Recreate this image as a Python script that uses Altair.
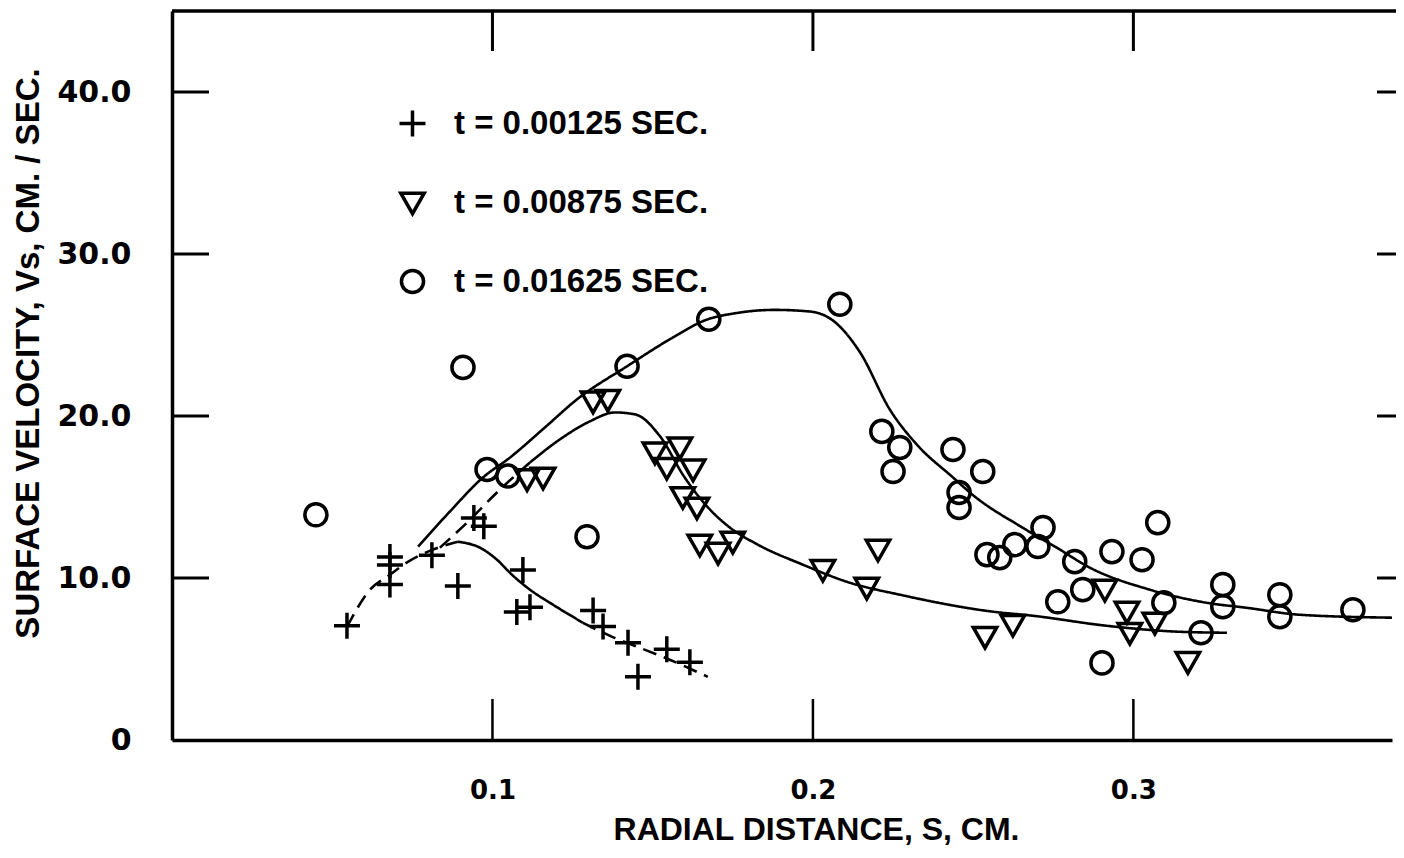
import altair as alt
import pandas as pd

# ---------------- data ----------------
LAB_PLUS = "t = 0.00125 SEC."
LAB_TRI = "t = 0.00875 SEC."
LAB_CIR = "t = 0.01625 SEC."
series_order = [LAB_PLUS, LAB_TRI, LAB_CIR]

plus_s = [0.0546, 0.0680, 0.0680, 0.0680, 0.0811, 0.0892, 0.0942, 0.0973, 0.1095,
          0.1076, 0.1117, 0.1314, 0.1345, 0.1423, 0.1454, 0.1544, 0.1616]
plus_v = [7.05, 11.3, 10.8, 9.6, 11.4, 9.5, 13.7, 13.2, 10.5,
          7.9, 8.2, 8.0, 7.0, 6.0, 3.9, 5.6, 4.8]

tri_s = [0.1314, 0.1360, 0.1108, 0.1158, 0.1507, 0.1585, 0.1544, 0.1626, 0.1594,
         0.1638, 0.1647, 0.1704, 0.1750, 0.2031, 0.2203, 0.2168, 0.2537, 0.2624,
         0.2911, 0.2980, 0.2989, 0.3067, 0.3170]
tri_v = [20.9, 21.0, 16.1, 16.2, 17.75, 18.06, 16.8, 16.7, 15.0,
         14.35, 12.06, 11.56, 12.24, 10.5, 11.75, 9.4, 6.37, 7.11,
         9.28, 7.92, 6.62, 7.24, 4.82]

circ_s = [0.0449, 0.0908, 0.0983, 0.1048, 0.1295, 0.1420, 0.1675, 0.2084, 0.2215,
          0.2271, 0.2250, 0.2437, 0.2530, 0.2456, 0.2456, 0.2718, 0.2543, 0.2583,
          0.2630, 0.2702, 0.2817, 0.2933, 0.3027, 0.3076, 0.2842, 0.2764, 0.3095,
          0.3211, 0.2902, 0.3279, 0.3279, 0.3457, 0.3457, 0.3685]
circ_v = [13.9, 23.0, 16.7, 16.3, 12.55, 23.07, 25.97, 26.9, 19.05,
          18.06, 16.57, 17.93, 16.57, 15.28, 14.35, 13.11, 11.44, 11.26,
          12.06, 11.94, 11.01, 11.63, 11.13, 13.42, 9.28, 8.53, 8.47,
          6.62, 4.76, 9.59, 8.23, 8.97, 7.61, 8.04]

# hand-drawn fitted curves
plus_fit_a_s = [0.0546, 0.0618, 0.0680, 0.0736, 0.0814, 0.0892]
plus_fit_a_v = [6.99, 9.28, 10.2, 11.0, 11.75, 12.24]
plus_fit_b_s = [0.0892, 0.0961, 0.1014, 0.1061, 0.1117, 0.1189, 0.1282]
plus_fit_b_v = [12.24, 11.87, 11.13, 10.20, 9.28, 8.35, 7.24]
plus_fit_c_s = [0.1282, 0.1367, 0.1460, 0.1532, 0.1672]
plus_fit_c_v = [7.24, 6.43, 5.69, 5.13, 3.90]

tri_fit_a_s = [0.0836, 0.0930, 0.1014, 0.1117]
tri_fit_a_v = [11.87, 13.6, 15.28, 17.13]
tri_fit_b_s = [0.1117, 0.1210, 0.1304, 0.1382, 0.1445, 0.1523, 0.1598, 0.1679, 0.1741,
               0.1828, 0.1969, 0.2115, 0.2271, 0.2562, 0.2686, 0.2917, 0.3145, 0.3292]
tri_fit_b_v = [17.13, 18.55, 19.67, 20.22, 20.1, 18.74, 16.26, 14.22, 13.11,
               12.06, 10.82, 9.71, 8.97, 7.92, 7.67, 7.05, 6.68, 6.62]

circ_fit_s = [0.0768, 0.0867, 0.0970, 0.1055, 0.1164, 0.1264, 0.1420, 0.1554, 0.1669,
              0.1760, 0.1880, 0.1990, 0.2062, 0.2147, 0.2240, 0.2324, 0.2434, 0.2505,
              0.2655, 0.2761, 0.2864, 0.3051, 0.3229, 0.3354, 0.3520, 0.3807]
circ_fit_v = [11.94, 14.1, 16.2, 17.44, 19.3, 21.03, 23.07, 24.74, 25.95,
              26.35, 26.55, 26.45, 25.9, 23.93, 20.4, 18.24, 16.26, 15.03,
              13.1, 11.87, 10.64, 9.28, 8.47, 8.16, 7.73, 7.55]

x_ticks = [0.1, 0.2, 0.3]
y_ticks = [10, 20, 30, 40]
y_label_values = [0, 10, 20, 30, 40]

X_TITLE = "RADIAL DISTANCE, S, CM."
Y_TITLE = "SURFACE  VELOCITY, Vs, CM. / SEC."

# ---------------- layout ----------------
W, H = 1220, 729
X_DOMAIN = [0, 0.3807]
Y_DOMAIN = [0, 45]

# ---------------- tables ----------------
pts_rows = []
for xs, ys, lab in [(plus_s, plus_v, LAB_PLUS), (tri_s, tri_v, LAB_TRI), (circ_s, circ_v, LAB_CIR)]:
    for a, b in zip(xs, ys):
        pts_rows.append({"s": a, "v": b, "series": lab})
pts = pd.DataFrame(pts_rows)

fit_rows = []
for name, xs, ys, style in [
    ("pa", plus_fit_a_s, plus_fit_a_v, "dashed"),
    ("pb", plus_fit_b_s, plus_fit_b_v, "solid"),
    ("pc", plus_fit_c_s, plus_fit_c_v, "dashed"),
    ("ta", tri_fit_a_s, tri_fit_a_v, "dashed"),
    ("tb", tri_fit_b_s, tri_fit_b_v, "solid"),
    ("cc", circ_fit_s, circ_fit_v, "solid"),
]:
    for a, b in zip(xs, ys):
        fit_rows.append({"s": a, "v": b, "part": name, "style": style})
fits = pd.DataFrame(fit_rows)

xt = pd.DataFrame({"s": x_ticks})
yt = pd.DataFrame({"v": y_ticks})
one = pd.DataFrame({"a": [0]})

xscale = alt.Scale(domain=X_DOMAIN, nice=False, zero=False)
yscale = alt.Scale(domain=Y_DOMAIN, nice=False)

shape_plus = "M-1,0L1,0M0,-1L0,1"
shape_tri = "M-0.9,-0.72L0.9,-0.72L0,0.86Z"
shape_circ = "M0.85,0A0.85,0.85 0 1,1 -0.85,0A0.85,0.85 0 1,1 0.85,0Z"

x_axis = alt.Axis(
    values=x_ticks, format=".1f", grid=False, ticks=False, tickSize=0,
    domain=True, domainColor="black", domainWidth=3.5,
    labelFont="DejaVu Sans", labelFontWeight="bold", labelFontSize=26,
    labelColor="black", labelPadding=50, labelBaseline="middle",
    title=X_TITLE, titleFont="Liberation Sans", titleFontWeight="bold",
    titleFontSize=32, titleColor="black", titleX=644, titleY=89,
    titleAlign="center", titleBaseline="middle",
)
y_axis = alt.Axis(
    values=y_label_values,
    labelExpr="datum.value == 0 ? '0' : format(datum.value, '.1f')",
    grid=False, ticks=False, tickSize=0,
    domain=True, domainColor="black", domainWidth=3.5,
    labelFont="DejaVu Sans", labelFontWeight="bold", labelFontSize=30,
    labelColor="black", labelPadding=41,
    title=Y_TITLE, titleFont="Liberation Sans", titleFontWeight="bold",
    titleFontSize=33, titleColor="black", titleX=-144, titleY=342,
    titleAngle=270, titleAlign="center", titleBaseline="middle",
)

points = alt.Chart(pts).mark_point(
    filled=False, stroke="black", strokeWidth=3.5, size=676, opacity=1
).encode(
    x=alt.X("s:Q", scale=xscale, axis=x_axis),
    y=alt.Y("v:Q", scale=yscale, axis=y_axis),
    shape=alt.Shape(
        "series:N",
        scale=alt.Scale(domain=series_order, range=[shape_plus, shape_tri, shape_circ]),
        title=None,
        legend=alt.Legend(
            orient="none", legendX=224, legendY=96, padding=0,
            symbolSize=676, symbolStrokeWidth=3.5, symbolStrokeColor="black",
            symbolFillColor="white", symbolType="circle",
            labelFont="Liberation Sans", labelFontWeight="bold", labelFontSize=33,
            labelColor="black", labelOffset=25, rowPadding=42, labelLimit=600,
        ),
    ),
)

lines = alt.Chart(fits).mark_line(
    color="black", strokeWidth=2.6, interpolate="monotone"
).encode(
    x=alt.X("s:Q", scale=xscale),
    y=alt.Y("v:Q", scale=yscale),
    detail="part:N",
    strokeDash=alt.StrokeDash(
        "style:N",
        scale=alt.Scale(domain=["solid", "dashed"], range=[[1, 0], [14, 8]]),
        legend=None,
    ),
)

top_frame = alt.Chart(one).mark_rule(color="black", strokeWidth=3.5).encode(
    x=alt.value(0), x2=alt.value(W + 4), y=alt.value(0)
)
top_ticks = alt.Chart(xt).mark_rule(color="black", strokeWidth=3).encode(
    x=alt.X("s:Q", scale=xscale), y=alt.value(0), y2=alt.value(40)
)
bottom_ticks = alt.Chart(xt).mark_rule(color="black", strokeWidth=2.5).encode(
    x=alt.X("s:Q", scale=xscale), y=alt.value(H - 41), y2=alt.value(H)
)
left_ticks = alt.Chart(yt).mark_rule(color="black", strokeWidth=3).encode(
    y=alt.Y("v:Q", scale=yscale), x=alt.value(0), x2=alt.value(37)
)
right_ticks = alt.Chart(yt).mark_rule(color="black", strokeWidth=3).encode(
    y=alt.Y("v:Q", scale=yscale), x=alt.value(W - 15), x2=alt.value(W + 4)
)

chart = alt.layer(
    lines, points, top_frame, top_ticks, bottom_ticks, left_ticks, right_ticks
).properties(
    width=W, height=H,
    autosize=alt.AutoSizeParams(type="none"),
    padding={"left": 164, "top": 3, "right": 4, "bottom": 110},
    background="white",
).configure_view(strokeWidth=0, stroke="transparent")

chart.save("out.html", embed_options={"renderer": "svg", "actions": False})
